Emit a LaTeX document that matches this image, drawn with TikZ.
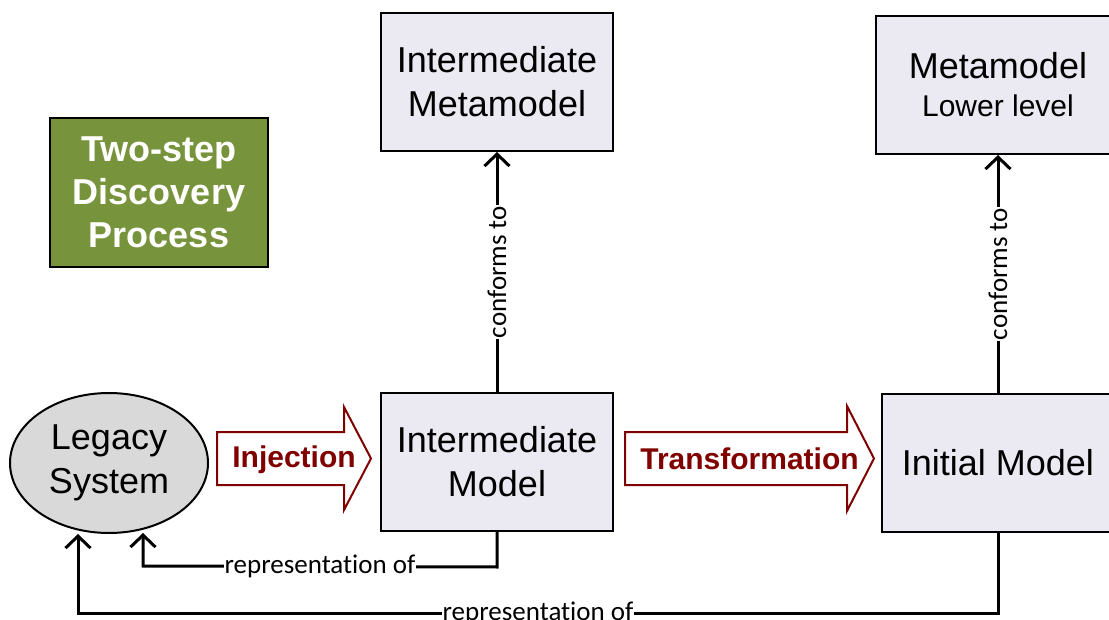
\documentclass[tikz,border=0pt]{standalone}
\usepackage{fontspec}
\setmainfont{Liberation Sans}
\newfontfamily\lblfont[Ligatures=NoCommon]{Carlito}
\usetikzlibrary{arrows.meta,shapes.geometric}
\definecolor{boxfill}{HTML}{EBE9F1}
\definecolor{ellfill}{HTML}{D9D9D9}
\definecolor{greenfill}{HTML}{77933C}
\definecolor{darkred}{HTML}{800000}
\tikzset{
  mbox/.style={draw=black, line width=2pt, fill=boxfill, rectangle, minimum width=232pt, minimum height=138pt, inner sep=0pt, align=center, font=\fontsize{36}{44}\selectfont},
  conn/.style={draw=black, line width=3pt, -{Straight Barb[length=12pt,width=25pt,line width=3pt]}},
  lbl/.style={fill=white, inner sep=1pt, font=\lblfont\fontsize{27}{30}\selectfont},
  blk/.style={draw=darkred, line width=2pt, fill=white, line join=miter},
  blktext/.style={text=darkred, font=\bfseries\fontsize{30}{34}\selectfont, inner sep=0pt}
}
\begin{document}
\begin{tikzpicture}[x=1pt,y=-1pt]
\useasboundingbox (0,0) rectangle (1109,620);
\clip (0,0) rectangle (1109,620);
% nodes
\node[mbox] (imm) at (497,82) {Intermediate\\Metamodel};
\node[mbox] (im) at (497,462) {Intermediate\\Model};
\node[mbox, minimum width=244pt] (mm) at (998,85) {Metamodel\\[-6pt]{\fontsize{30}{34}\selectfont Lower level}};
\node[mbox] (init) at (998,463) {Initial Model};
\node[draw=black, line width=2pt, fill=greenfill, minimum width=218pt, minimum height=149pt, inner sep=0pt, align=center, text=white, font=\bfseries\fontsize{36}{43}\selectfont] (green) at (159,192.5) {Two-step\\Discovery\\Process};
\node[ellipse, draw=black, line width=2pt, fill=ellfill, minimum width=198pt, minimum height=140pt, inner sep=0pt, font=\fontsize{36}{44}\selectfont] (legacy) at (109,463) {\raisebox{-3pt}{\begin{tabular}{@{}c@{}}Legacy\\System\end{tabular}}};
% block arrows
\draw[blk] (217,432) -- (344,432) -- (344,407) -- (371,458.5) -- (344,510) -- (344,485) -- (217,485) -- cycle;
\node[blktext] (inj) at (294,460) {Injection};
\draw[blk] (625,432) -- (847,432) -- (847,406) -- (874,458.5) -- (847,511) -- (847,485) -- (625,485) -- cycle;
\node[blktext] (trans) at (749.5,459) {Transformation};
% conforms to
\draw[conn] (im.north) -- node[lbl, rotate=90] {conforms to} (imm.south);
\draw[conn] (init.north) -- node[lbl, rotate=90] {conforms to} (mm.south);
% representation of
\coordinate (r1) at (143,533);
\coordinate (r2) at (78,534);
\draw[conn] (im.south) -- ++(0,35) -- node[lbl] {representation of} (143,566) -- (r1);
\draw[conn] (init.south) -- (998,613) -- node[lbl] {representation of} (78,613) -- (r2);
\end{tikzpicture}
\end{document}
